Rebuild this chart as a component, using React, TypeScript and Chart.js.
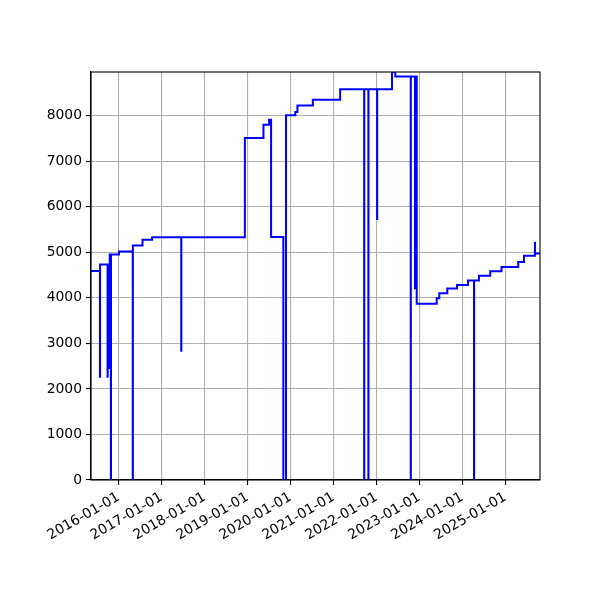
import React, { useEffect, useRef } from 'react';
import { Chart, registerables } from 'chart.js';

Chart.register(...registerables);

// change dates and the value that holds from that date until the next one
const dates = [
  '2015-05-11', '2015-07-26', '2015-07-27', '2015-09-29', '2015-09-30',
  '2015-10-11', '2015-10-12', '2015-10-17', '2015-10-27', '2015-10-28',
  '2016-01-04', '2016-04-30', '2016-05-01', '2016-07-22', '2016-10-12',
  '2017-06-16', '2017-06-17', '2018-12-09', '2019-05-16', '2019-07-03',
  '2019-07-20', '2019-11-01', '2019-11-24', '2020-02-11', '2020-02-29',
  '2020-07-09', '2021-02-26', '2021-09-18', '2021-09-19', '2021-10-24',
  '2021-10-25', '2022-01-06', '2022-01-07', '2022-05-13', '2022-06-10',
  '2022-10-19', '2022-10-20', '2022-11-24', '2022-11-25', '2022-12-09',
  '2023-05-28', '2023-06-19', '2023-08-26', '2023-11-16', '2024-02-18',
  '2024-04-09', '2024-04-10', '2024-05-21', '2024-08-25', '2024-11-29',
  '2025-04-20', '2025-06-08', '2025-09-09', '2025-09-10', '2025-10-22',
];
const values = [
  4590, 2270, 4730, 2270, 4730,
  2460, 4730, 4950, 0, 4950,
  5020, 0, 5150, 5275, 5330,
  2840, 5330, 7510, 7800, 7910,
  5335, 0, 8010, 8080, 8225,
  8350, 8580, 0, 8580, 0,
  8580, 5730, 8580, 8960, 8860,
  0, 8860, 4210, 8860, 3870,
  3990, 4100, 4205, 4285, 4380,
  0, 4380, 4485, 4585, 4675,
  4785, 4925, 5210, 4975, 4975,
];
const yTicks = [0, 1000, 2000, 3000, 4000, 5000, 6000, 7000, 8000];
const xTickYears = [2016, 2017, 2018, 2019, 2020, 2021, 2022, 2023, 2024, 2025];

const frame = {
  id: 'frame',
  afterDraw(chart: Chart) {
    const { ctx, chartArea } = chart;
    ctx.save();
    ctx.strokeStyle = '#000';
    ctx.lineWidth = 1.1;
    ctx.strokeRect(chartArea.left, chartArea.top, chartArea.right - chartArea.left, chartArea.bottom - chartArea.top);
    ctx.restore();
  },
};

const App: React.FC = () => {
  const chartRef = useRef<HTMLCanvasElement | null>(null);
  const chartInstance = useRef<Chart | null>(null);

  useEffect(() => {
    if (!chartRef.current) return;
    if (chartInstance.current) chartInstance.current.destroy();

    const xs = dates.map(d => Date.parse(d));
    const font = { family: 'DejaVu Sans', size: 13.9 };

    chartInstance.current = new Chart(chartRef.current, {
      type: 'line',
      data: {
        datasets: [
          {
            data: xs.map((x, i) => ({ x, y: values[i] })),
            borderColor: '#0000ff',
            borderWidth: 2,
            pointRadius: 0,
            stepped: 'before',
            tension: 0,
            fill: false,
          },
        ],
      },
      options: {
        animation: false,
        responsive: true,
        maintainAspectRatio: false,
        layout: { padding: { left: 0, top: 72, right: 60, bottom: 0 } },
        plugins: { legend: { display: false }, tooltip: { enabled: false } },
        scales: {
          x: {
            type: 'linear',
            min: xs[0],
            max: xs[xs.length - 1],
            afterBuildTicks: scale => {
              scale.ticks = xTickYears.map(y => ({ value: Date.UTC(y, 0, 1) }));
            },
            afterFit: scale => {
              scale.height = 120;
            },
            ticks: {
              autoSkip: false,
              minRotation: 30,
              maxRotation: 30,
              color: '#000',
              font,
              padding: 4,
              callback: v => new Date(Number(v)).toISOString().slice(0, 10),
            },
            grid: { color: '#b0b0b0', lineWidth: 1.1, tickColor: '#000', tickLength: 5 },
            border: { color: '#000', width: 1.1 },
          },
          y: {
            min: 0,
            max: Math.max(...values),
            afterBuildTicks: scale => {
              scale.ticks = yTicks.map(v => ({ value: v }));
            },
            afterFit: scale => {
              scale.width = 91;
            },
            ticks: { color: '#000', font, padding: 4, callback: v => String(v) },
            grid: { color: '#b0b0b0', lineWidth: 1.1, tickColor: '#000', tickLength: 5 },
            border: { color: '#000', width: 1.1 },
          },
        },
      },
      plugins: [frame],
    });

    return () => {
      if (chartInstance.current) {
        chartInstance.current.destroy();
        chartInstance.current = null;
      }
    };
  }, []);

  return (
    <div style={{ position: 'absolute', left: 0, top: 0, width: 600, height: 600 }}>
      <canvas ref={chartRef}></canvas>
    </div>
  );
};

export default App;
